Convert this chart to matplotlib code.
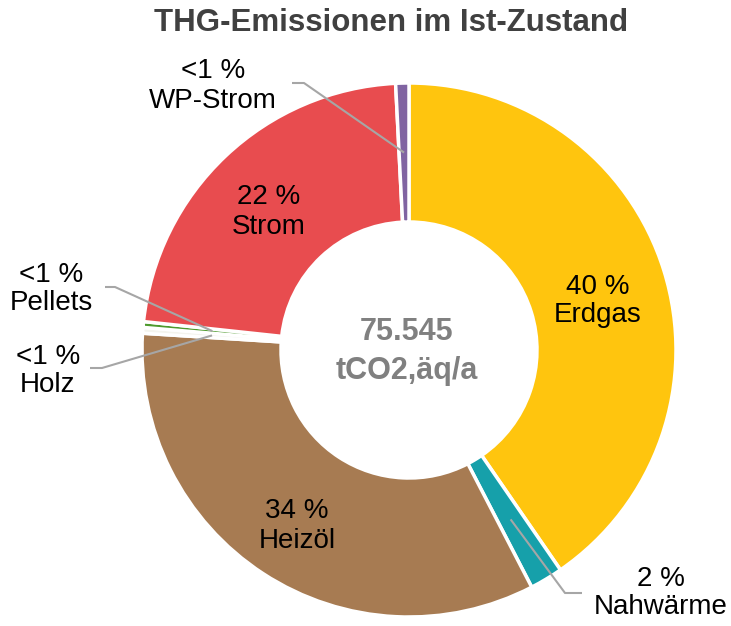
import numpy as np
import matplotlib
matplotlib.use("Agg")
import matplotlib.pyplot as plt

plt.rcParams['font.family'] = ['Liberation Sans', 'DejaVu Sans']

# ---- data ----
categories = ["Erdgas", "Nahwärme", "Heizöl", "Holz", "Pellets", "Strom", "WP-Strom"]
shares = [40.4, 2.0, 33.6, 0.35, 0.35, 22.5, 0.8]
pct_labels = ["40 %", "2 %", "34 %", "<1 %", "<1 %", "22 %", "<1 %"]
colors = ["#FFC50E", "#16A0AA", "#A77B52", "#F4F4EE", "#4E9A2E", "#E84C4F", "#8064A2"]
title = "THG-Emissionen im Ist-Zustand"
center_value = "75.545"
center_unit = "tCO2,äq/a"

# ---- layout (pixel coords, y up) ----
W, H = 731, 626
cx, cy = 409, 276
R_OUT, R_IN = 267, 128

fig = plt.figure(figsize=(W / 100, H / 100), dpi=100)
ax = fig.add_axes([0, 0, 1, 1])
ax.pie(shares, colors=colors, startangle=90, counterclock=False,
       radius=R_OUT, center=(cx, cy),
       wedgeprops=dict(width=R_OUT - R_IN, edgecolor="white", linewidth=2.5))
ax.set_xlim(0, W)
ax.set_ylim(0, H)
ax.set_aspect("equal")
ax.axis("off")

total = sum(shares)
cum = np.cumsum([0] + shares[:-1])
mid_deg = [360 * (c + v / 2) / total for c, v in zip(cum, shares)]
r_mid = (R_OUT + R_IN) / 2


def anchor(i):
    t = np.deg2rad(mid_deg[i])
    return cx + r_mid * np.sin(t), cy + r_mid * np.cos(t)


FS = 20
LS = 1.15
inside_pos = {"Erdgas": (598, 325), "Heizöl": (297, 100), "Strom": (269, 414)}
outside_pos = {"WP-Strom": (213, 540), "Nahwärme": (661, 33),
               "Pellets": (51, 337), "Holz": (48, 255)}
# leader: (start, elbow) points; final point = slice anchor
leaders = {"WP-Strom": [(292, 543), (304, 543)],
           "Nahwärme": [(582, 33), (565, 33)],
           "Pellets": [(105, 339), (115, 339)],
           "Holz": [(90, 258), (102, 258)]}

for i, cat in enumerate(categories):
    txt = f"{pct_labels[i]}\n{cat}"
    if cat in inside_pos:
        x, y = inside_pos[cat]
        ax.text(x, y, txt, ha="center", va="center", fontsize=FS,
                color="black", linespacing=LS)
    else:
        x, y = outside_pos[cat]
        ax.text(x, y, txt, ha="center", va="center", fontsize=FS,
                color="black", linespacing=LS)
        ax_, ay_ = anchor(i)
        pts = leaders[cat] + [(ax_, ay_)]
        ax.plot([p[0] for p in pts], [p[1] for p in pts], color="#A6A6A6",
                lw=1.5, solid_capstyle="butt", zorder=5)

ax.text(cx - 2, 294, center_value, ha="center", va="center", fontsize=22,
        fontweight="bold", color="#808080")
ax.text(cx - 2, 255, center_unit, ha="center", va="center", fontsize=22,
        fontweight="bold", color="#808080")

ax.text(391, 603, title, ha="center", va="center", fontsize=22.5,
        fontweight="bold", color="#404040")

fig.savefig("out.png", dpi=100)
